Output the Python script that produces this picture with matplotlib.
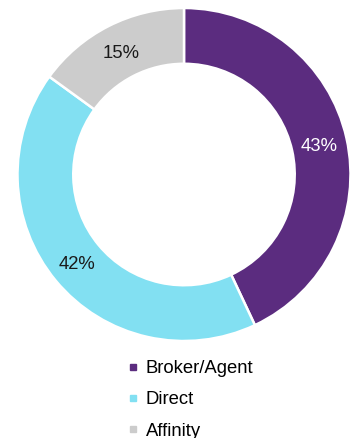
import matplotlib
matplotlib.use("Agg")
import matplotlib.pyplot as plt
from matplotlib.lines import Line2D

plt.rcParams['font.family'] = ['Liberation Sans', 'DejaVu Sans']

categories = ["Broker/Agent", "Direct", "Affinity"]
shares = [43, 42, 15]
labels = ["43%", "42%", "15%"]
colors = ["#5B2C7F", "#82E0F2", "#CCCCCC"]
label_colors = ["white", "#1a1a1a", "#1a1a1a"]

W, H = 353, 438
fig = plt.figure(figsize=(W / 100, H / 100), dpi=100)

# donut axes: centre (184, 174.5) px from top, outer radius 166.5 px
cx, cy, r = 184, 174.5, 166.5
ax = fig.add_axes([(cx - r) / W, (H - cy - r) / H, 2 * r / W, 2 * r / H])

wedges, texts = ax.pie(
    shares, colors=colors, startangle=90, counterclock=False, radius=1.0,
    wedgeprops=dict(width=0.335, edgecolor='white', linewidth=1.8),
    labels=labels, labeldistance=0.832,
)
ax.set_xlim(-1, 1)
ax.set_ylim(-1, 1)
ax.set_aspect('equal')
ax.axis('off')
for t, c in zip(texts, label_colors):
    t.set_color(c)
    t.set_fontsize(13.3)
    t.set_ha('center')
    t.set_va('center_baseline')

handles = [Line2D([], [], marker='s', linestyle='', color=c, markersize=5)
           for c in colors]
fig.legend(handles, categories, loc='upper left',
           bbox_to_anchor=(127 / W, 1 - 360 / H), frameon=False,
           fontsize=13.3, handlelength=0.6, handletextpad=0.4,
           labelspacing=0.78, borderpad=0, borderaxespad=0)

fig.savefig("out.png", dpi=100)
